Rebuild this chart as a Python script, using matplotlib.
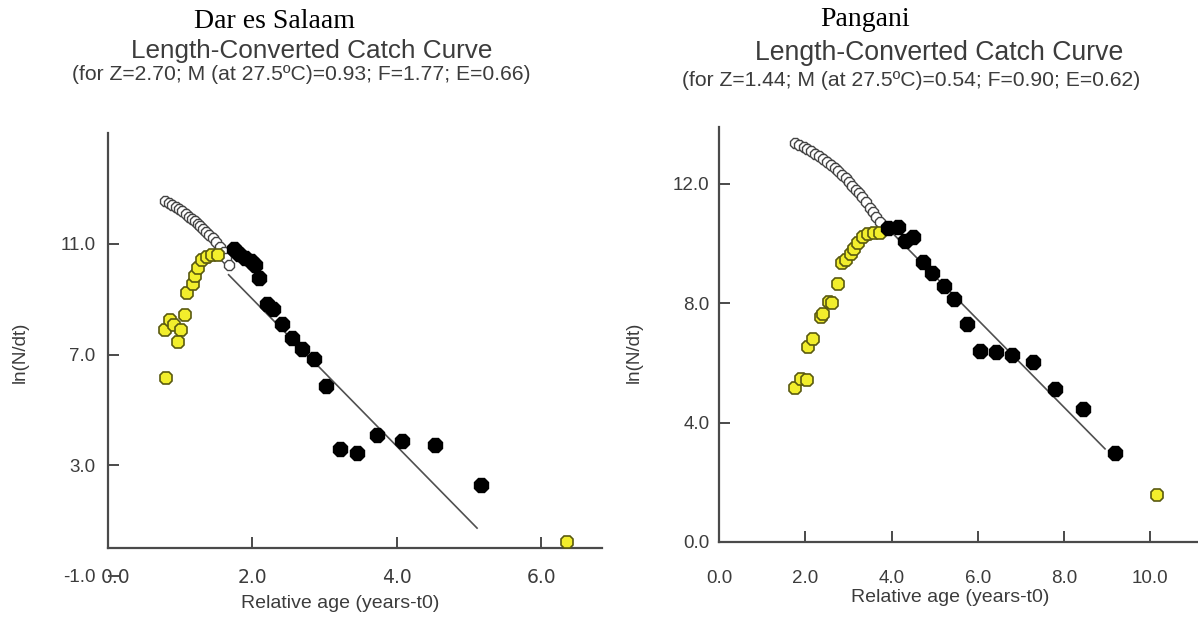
import matplotlib
matplotlib.use("Agg")
import matplotlib.pyplot as plt
import matplotlib.transforms as mtransforms

# ---------------- Data: Dar es Salaam ----------------
dar_open_x = [0.79, 0.84, 0.89, 0.94, 0.98, 1.03, 1.08, 1.12, 1.16, 1.20, 1.24, 1.28, 1.32, 1.36, 1.40, 1.45, 1.50, 1.55, 1.60, 1.64, 1.67]
dar_open_y = [12.53, 12.47, 12.40, 12.33, 12.27, 12.18, 12.08, 11.98, 11.90, 11.82, 11.73, 11.63, 11.53, 11.43, 11.33, 11.20, 11.06, 10.90, 10.72, 10.50, 10.25]
dar_yel_x = [0.80, 0.79, 0.86, 0.92, 1.01, 0.97, 1.06, 1.09, 1.17, 1.20, 1.25, 1.30, 1.37, 1.44, 1.52]
dar_yel_y = [6.16, 7.90, 8.23, 8.05, 7.90, 7.45, 8.43, 9.22, 9.54, 9.84, 10.14, 10.40, 10.52, 10.58, 10.58]
dar_blk_x = [1.74, 1.82, 1.90, 1.98, 2.04, 2.09, 2.20, 2.28, 2.41, 2.55, 2.69, 2.85, 3.02, 3.21, 3.45, 3.73, 4.07, 4.53, 5.16]
dar_blk_y = [10.80, 10.62, 10.50, 10.38, 10.24, 9.78, 8.83, 8.65, 8.11, 7.61, 7.21, 6.82, 5.88, 3.60, 3.44, 4.11, 3.87, 3.72, 2.28]
dar_last_x = [6.36]
dar_last_y = [0.22]
dar_fit_x = [1.67, 5.11]
dar_fit_y = [9.88, 0.73]
dar_xticks = [0.0, 2.0, 4.0, 6.0]
dar_xticklabels = ["0.0", "2.0", "4.0", "6.0"]
dar_yticks = [-1.0, 3.0, 7.0, 11.0]
dar_yticklabels = ["-1.0", "3.0", "7.0", "11.0"]

# ---------------- Data: Pangani ----------------
pan_open_x = [1.77, 1.86, 1.96, 2.05, 2.14, 2.23, 2.32, 2.41, 2.50, 2.59, 2.68, 2.77, 2.86, 2.94, 3.02, 3.09, 3.17, 3.25, 3.32, 3.41, 3.50, 3.57, 3.64, 3.73]
pan_open_y = [13.37, 13.31, 13.24, 13.17, 13.09, 13.01, 12.92, 12.83, 12.74, 12.64, 12.53, 12.42, 12.30, 12.18, 12.05, 11.91, 11.79, 11.68, 11.57, 11.38, 11.18, 11.04, 10.90, 10.73]
pan_yel_x = [1.77, 1.91, 2.03, 2.07, 2.19, 2.36, 2.41, 2.55, 2.61, 2.75, 2.86, 2.94, 3.05, 3.14, 3.23, 3.34, 3.45, 3.59, 3.73]
pan_yel_y = [5.17, 5.45, 5.42, 6.54, 6.80, 7.53, 7.64, 8.03, 8.00, 8.63, 9.33, 9.44, 9.66, 9.83, 10.00, 10.20, 10.31, 10.34, 10.36]
pan_blk_x = [3.91, 4.14, 4.32, 4.50, 4.73, 4.95, 5.21, 5.45, 5.75, 6.06, 6.43, 6.79, 7.27, 7.80, 8.44, 9.18]
pan_blk_y = [10.51, 10.54, 10.09, 10.20, 9.38, 9.01, 8.57, 8.15, 7.30, 6.40, 6.38, 6.27, 6.04, 5.11, 4.44, 2.99]
pan_last_x = [10.15]
pan_last_y = [1.58]
pan_fit_x = [3.95, 8.95]
pan_fit_y = [10.45, 3.12]
pan_xticks = [0.0, 2.0, 4.0, 6.0, 8.0, 10.0]
pan_xticklabels = ["0.0", "2.0", "4.0", "6.0", "8.0", "10.0"]
pan_yticks = [0.0, 4.0, 8.0, 12.0]
pan_yticklabels = ["0.0", "4.0", "8.0", "12.0"]

W, H = 1198, 618
fig = plt.figure(figsize=(W / 100, H / 100), dpi=100)

SANS = ["Liberation Sans", "DejaVu Sans"]
SERIF = ["Liberation Serif", "DejaVu Serif"]
TXT = "#3c3c3c"
AXC = "#4a4a4a"
YEL = "#f2ee2c"
YEL_EDGE = "#5a5a10"


def px_axes(x0, y0, x1, y1):
    return fig.add_axes([x0 / W, 1 - y1 / H, (x1 - x0) / W, (y1 - y0) / H])


def style(ax, xlim, ylim, xt, xtl, yt, ytl, xpad, ypad):
    ax.set_xlim(*xlim)
    ax.set_ylim(*ylim)
    for s in ("top", "right"):
        ax.spines[s].set_visible(False)
    for s in ("left", "bottom"):
        ax.spines[s].set_color(AXC)
        ax.spines[s].set_linewidth(1.6)
    ax.set_xticks(xt, xtl)
    ax.set_yticks(yt, ytl)
    ax.tick_params(direction="in", length=8, width=1.4, color=AXC,
                   labelsize=13.5, labelcolor=TXT)
    ax.tick_params(axis="x", pad=xpad)
    ax.tick_params(axis="y", pad=ypad)
    for lab in ax.get_xticklabels() + ax.get_yticklabels():
        lab.set_family(SANS)
    ax.set_facecolor("none")


def draw(ax, ox, oy, yx, yy, bx, by, lx, ly, fx, fy):
    ax.plot(fx, fy, color="#505050", lw=1.2, zorder=1)
    ax.plot(ox, oy, ls="none", marker="8", ms=8, mfc="white", mec="#444444", mew=1.0, zorder=2)
    ax.plot(yx, yy, ls="none", marker="8", ms=10, mfc=YEL, mec=YEL_EDGE, mew=1.2, zorder=3)
    ax.plot(bx, by, ls="none", marker="8", ms=11, mfc="black", mec="black", zorder=4)
    ax.plot(lx, ly, ls="none", marker="8", ms=10, mfc=YEL, mec=YEL_EDGE, mew=1.2, zorder=5, clip_on=False)


# Left panel: y from -1 (bottom) to 15, x-axis drawn at y = 0
axL = px_axes(108, 133, 602, 576)
style(axL, (0, 6.84), (-1, 15), dar_xticks, dar_xticklabels, dar_yticks, dar_yticklabels, xpad=14, ypad=9)
axL.spines["bottom"].set_position(("data", 0))
axL.spines["left"].set_bounds(0, 15)
draw(axL, dar_open_x, dar_open_y, dar_yel_x, dar_yel_y, dar_blk_x, dar_blk_y,
     dar_last_x, dar_last_y, dar_fit_x, dar_fit_y)
# nudge the "0.0" label on the x axis to the right, as in the reference
xl0 = axL.get_xticklabels()[0]
xl0.set_transform(xl0.get_transform() + mtransforms.ScaledTranslation(8 / 100, 0, fig.dpi_scale_trans))
axL.set_xlabel("Relative age (years-t0)", fontsize=14, color=TXT, family=SANS, va="center")
axL.xaxis.set_label_coords((340 - 108) / 494, -(603 - 576) / 443)
axL.set_ylabel("ln(N/dt)", fontsize=13.5, color=TXT, family=SANS, va="center")
axL.yaxis.set_label_coords((20 - 108) / 494, (576 - 352) / 443)

# Right panel
axR = px_axes(719, 127, 1215, 542)
style(axR, (0, 11.5), (0, 13.9), pan_xticks, pan_xticklabels, pan_yticks, pan_yticklabels, xpad=20, ypad=7)
draw(axR, pan_open_x, pan_open_y, pan_yel_x, pan_yel_y, pan_blk_x, pan_blk_y,
     pan_last_x, pan_last_y, pan_fit_x, pan_fit_y)
axR.set_xlabel("Relative age (years-t0)", fontsize=14, color=TXT, family=SANS, va="center")
axR.xaxis.set_label_coords((950 - 719) / 496, -(598 - 542) / 415)
axR.set_ylabel("ln(N/dt)", fontsize=13.5, color=TXT, family=SANS, va="center")
axR.yaxis.set_label_coords((634 - 719) / 496, (542 - 352) / 415)

# Titles
fig.text(275 / W, 1 - 21 / H, "Dar es Salaam", ha="center", va="center", fontsize=20, family=SERIF, color="black")
fig.text(312 / W, 1 - 51 / H, "Length-Converted Catch Curve", ha="center", va="center", fontsize=18.8, family=SANS, color=TXT)
fig.text(301 / W, 1 - 74 / H, "(for Z=2.70; M (at 27.5\u00baC)=0.93; F=1.77; E=0.66)", ha="center", va="center", fontsize=15.2, family=SANS, color=TXT)

fig.text(865 / W, 1 - 19 / H, "Pangani", ha="center", va="center", fontsize=20, family=SERIF, color="black")
fig.text(939 / W, 1 - 53 / H, "Length-Converted Catch Curve", ha="center", va="center", fontsize=19.2, family=SANS, color=TXT)
fig.text(911 / W, 1 - 80 / H, "(for Z=1.44; M (at 27.5\u00baC)=0.54; F=0.90; E=0.62)", ha="center", va="center", fontsize=15.2, family=SANS, color=TXT)

fig.savefig("out.png", dpi=100, facecolor="white")
